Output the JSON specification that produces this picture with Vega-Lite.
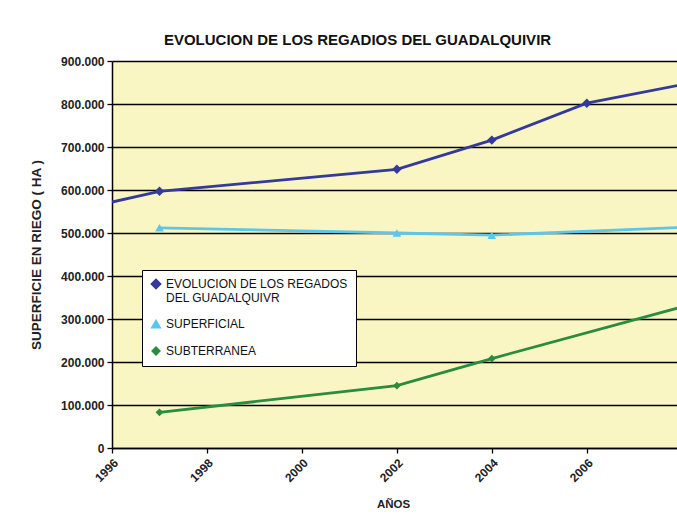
{
  "$schema": "https://vega.github.io/schema/vega-lite/v6.json",
  "autosize": {"type": "none"},
  "padding": {"left": 112, "top": 61, "right": 0, "bottom": 72},
  "width": 565,
  "height": 387,
  "background": "white",
  "title": {
    "text": "EVOLUCION DE LOS REGADIOS DEL GUADALQUIVIR",
    "font": "Liberation Sans",
    "fontSize": 15,
    "fontWeight": "bold",
    "color": "#111",
    "anchor": "middle",
    "dx": -37,
    "offset": 7
  },
  "data": {
    "values": [
      {"year": 1996, "serie": "EVOLUCION DE LOS REGADOS DEL GUADALQUIVR", "value": 572000},
      {"year": 1997, "serie": "EVOLUCION DE LOS REGADOS DEL GUADALQUIVR", "value": 597000},
      {"year": 2002, "serie": "EVOLUCION DE LOS REGADOS DEL GUADALQUIVR", "value": 648000},
      {"year": 2004, "serie": "EVOLUCION DE LOS REGADOS DEL GUADALQUIVR", "value": 716000},
      {"year": 2006, "serie": "EVOLUCION DE LOS REGADOS DEL GUADALQUIVR", "value": 802000},
      {"year": 2008, "serie": "EVOLUCION DE LOS REGADOS DEL GUADALQUIVR", "value": 845000},
      {"year": 1997, "serie": "SUPERFICIAL", "value": 512000},
      {"year": 2002, "serie": "SUPERFICIAL", "value": 500000},
      {"year": 2004, "serie": "SUPERFICIAL", "value": 495000},
      {"year": 2008, "serie": "SUPERFICIAL", "value": 513000},
      {"year": 1997, "serie": "SUBTERRANEA", "value": 83000},
      {"year": 2002, "serie": "SUBTERRANEA", "value": 145000},
      {"year": 2004, "serie": "SUBTERRANEA", "value": 208000},
      {"year": 2008, "serie": "SUBTERRANEA", "value": 328000}
    ]
  },
  "encoding": {
    "x": {
      "field": "year",
      "type": "quantitative",
      "scale": {"domain": [1996, 2007.9], "nice": false, "zero": false},
      "axis": {
        "title": "AÑOS",
        "values": [1996, 1998, 2000, 2002, 2004, 2006, 2008],
        "format": "d",
        "labelAngle": -45,
        "labelAlign": "right",
        "labelBaseline": "top",
        "labelFont": "Liberation Sans",
        "labelFontSize": 12,
        "labelFontWeight": "bold",
        "labelColor": "#222",
        "labelPadding": 4,
        "labelOverlap": false,
        "labelBound": false,
        "labelFlush": false,
        "grid": false,
        "domainColor": "#000",
        "domainWidth": 1.5,
        "tickColor": "#000",
        "tickSize": 5,
        "tickWidth": 1.3,
        "titleFont": "Liberation Sans",
        "titleFontSize": 11.5,
        "titleFontWeight": "bold",
        "titleColor": "#222",
        "titlePadding": 15,
        "titleX": 281
      }
    },
    "y": {
      "field": "value",
      "type": "quantitative",
      "scale": {"domain": [0, 900000], "nice": false},
      "axis": {
        "title": "SUPERFICIE EN RIEGO ( HA )",
        "values": [0, 100000, 200000, 300000, 400000, 500000, 600000, 700000, 800000, 900000],
        "labelExpr": "replace(format(datum.value, ','), ',', '.')",
        "labelFont": "Liberation Sans",
        "labelFontSize": 12,
        "labelFontWeight": "bold",
        "labelColor": "#222",
        "labelPadding": 3,
        "grid": true,
        "gridColor": "#000",
        "gridWidth": 1.4,
        "domainColor": "#000",
        "domainWidth": 1.5,
        "tickColor": "#000",
        "tickSize": 5,
        "tickWidth": 1.3,
        "titleFont": "Liberation Sans",
        "titleFontSize": 13.5,
        "titleFontWeight": "bold",
        "titleColor": "#222",
        "titlePadding": 17
      }
    },
    "color": {
      "field": "serie",
      "type": "nominal",
      "scale": {
        "domain": ["EVOLUCION DE LOS REGADOS DEL GUADALQUIVR", "SUPERFICIAL", "SUBTERRANEA"],
        "range": ["#343a9c", "#5cc6ec", "#2a8c3e"]
      },
      "legend": {
        "orient": "none",
        "legendX": 30,
        "legendY": 209,
        "title": null,
        "fillColor": "white",
        "strokeColor": "#000",
        "padding": 8,
        "rowPadding": 13,
        "labelFont": "Liberation Sans",
        "labelFontSize": 12,
        "labelColor": "#111",
        "labelLimit": 300,
        "symbolSize": 70,
        "labelExpr": "datum.label == 'EVOLUCION DE LOS REGADOS DEL GUADALQUIVR' ? ['EVOLUCION DE LOS REGADOS', 'DEL GUADALQUIVR'] : datum.label"
      }
    }
  },
  "layer": [
    {
      "mark": {"type": "line", "strokeWidth": 2.8, "clip": true}
    },
    {
      "transform": [{"filter": "datum.year > 1996 && datum.year < 2008"}],
      "mark": {"type": "point", "filled": true, "opacity": 1, "clip": true},
      "encoding": {
        "shape": {
          "field": "serie",
          "type": "nominal",
          "scale": {
            "domain": ["EVOLUCION DE LOS REGADOS DEL GUADALQUIVR", "SUPERFICIAL", "SUBTERRANEA"],
            "range": ["diamond", "triangle-up", "diamond"]
          },
          "legend": {
            "orient": "none",
            "legendX": 30,
            "legendY": 209,
            "title": null,
            "fillColor": "white",
            "strokeColor": "#000",
            "padding": 8,
            "rowPadding": 13,
            "labelFont": "Liberation Sans",
            "labelFontSize": 12,
            "labelColor": "#111",
            "labelLimit": 300,
            "symbolSize": 70,
            "labelExpr": "datum.label == 'EVOLUCION DE LOS REGADOS DEL GUADALQUIVR' ? ['EVOLUCION DE LOS REGADOS', 'DEL GUADALQUIVR'] : datum.label"
          }
        },
        "size": {
          "field": "serie",
          "type": "nominal",
          "scale": {
            "domain": ["EVOLUCION DE LOS REGADOS DEL GUADALQUIVR", "SUPERFICIAL", "SUBTERRANEA"],
            "range": [90, 60, 140]
          },
          "legend": null
        }
      }
    }
  ],
  "config": {
    "view": {"fill": "#faf6c4", "stroke": null}
  }
}
